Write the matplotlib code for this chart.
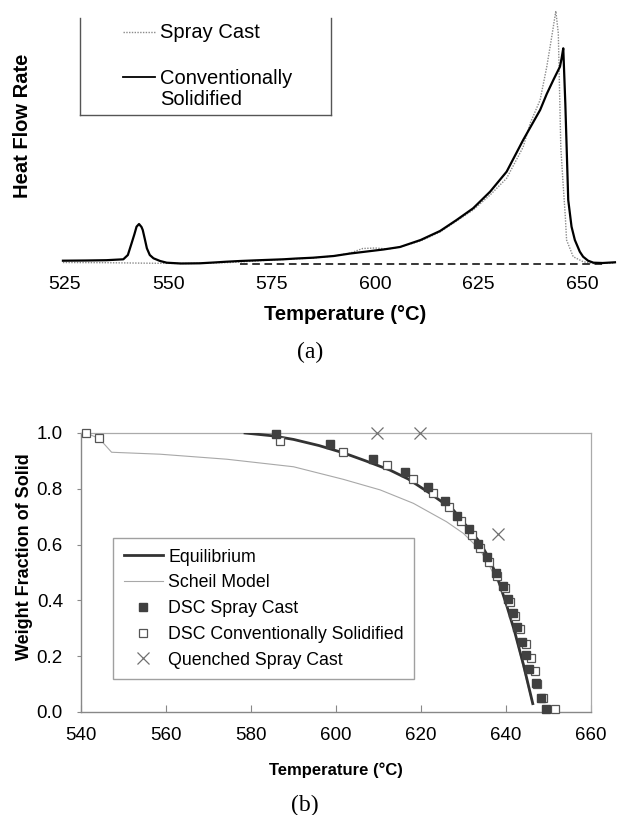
import matplotlib
matplotlib.use("Agg")
import matplotlib.pyplot as plt
from matplotlib.lines import Line2D

plt.rcParams['font.family'] = ['Liberation Sans', 'DejaVu Sans']

# (a) DSC heat flow curves (arbitrary units, baseline = 0)
conv_T = [524.5, 530, 535, 539.1, 540.2, 541.1, 541.8, 542.3, 542.9, 543.5, 543.8, 544.3, 544.8,
          545.5, 546.4, 548, 549.6, 553, 557.6, 561, 564.1, 567.3, 572, 577.8, 581, 585, 590, 594,
          598, 602, 606, 611, 615.7, 619.7, 623.7, 627.8, 631.8, 635.8, 639.9, 641.5, 643.1, 643.9,
          644.7, 645.1, 645.5, 646.0, 646.7, 647.5, 648.3, 649.5, 650.3, 651.5, 652.8, 655, 658]
conv_h = [3.3, 3.5, 3.8, 4.7, 9, 20.7, 30, 37.3, 40, 37, 34, 25, 15.7,
          9, 5.7, 3, 1.3, 0.5, 0.7, 1.5, 2.3, 3, 3.8, 4.7, 5.5, 6.3, 8, 10.5,
          12.5, 14.5, 17, 24, 33, 44, 55.7, 72.3, 92.3, 124, 154, 170, 184, 190.7,
          197.3, 205.7, 215.7, 160, 64, 37.3, 24, 12.3, 7.3, 3.3, 1.3, 1, 1.7]

spray_T = [524.5, 535, 545, 555, 565, 575, 585, 590, 594, 597, 600, 603, 606, 611, 615.7, 619.7,
           623.7, 627.8, 631.8, 635.8, 637.5, 639.9, 641.5, 642.7, 643.7, 644.3, 644.9, 645.4,
           646.0, 646.3, 647.9, 650.3, 652.8, 658]
spray_h = [1.5, 1.3, 0.8, 0.5, 1.5, 4, 6, 8, 11, 15.5, 16, 15, 17, 23, 32, 43,
           54, 69, 85.7, 117, 140.7, 164, 197, 227, 253, 230.7, 117, 84,
           47, 24, 7.3, 2.3, 0.5, 1]

base_T = [567.3, 655.0]
base_h = [0, 0]

# (b) fraction solid vs temperature
eq_T = [578.6, 585, 590, 596, 601.7, 607, 612.7, 617, 622.1, 627.6, 631.5, 634, 636.2, 638.2,
        640.2, 642, 644.1, 646.3]
eq_f = [1.0, 0.99, 0.977, 0.955, 0.929, 0.9, 0.867, 0.835, 0.784, 0.724, 0.652, 0.605, 0.545, 0.473,
        0.38, 0.29, 0.17, 0.03]

scheil_T = [541.2, 544.3, 547.2, 558.6, 574.3, 590, 601.7, 610.4, 618.2, 626, 630, 633.9, 636.2,
            638.4, 640, 641.8, 643.9, 646.2]
scheil_f = [1.0, 0.98, 0.931, 0.924, 0.906, 0.879, 0.834, 0.796, 0.748, 0.682, 0.64, 0.581, 0.521,
            0.455, 0.39, 0.3, 0.17, 0.03]

dsc_spray_T = [585.9, 598.6, 608.8, 616.2, 621.7, 625.6, 628.4, 631.4, 633.5, 635.6, 637.6, 639.2,
               640.5, 641.7, 642.7, 643.7, 644.6, 645.4, 647.1, 648.2, 649.3]
dsc_spray_f = [0.995, 0.961, 0.906, 0.861, 0.805, 0.757, 0.703, 0.655, 0.602, 0.554, 0.499, 0.452,
               0.404, 0.354, 0.304, 0.252, 0.204, 0.153, 0.103, 0.049, 0.01]

dsc_conv_T = [541.2, 544.3, 586.8, 601.7, 611.9, 618.0, 622.8, 626.6, 629.4, 631.9, 633.9, 636.1,
              637.9, 639.8, 640.9, 642.1, 643.3, 644.6, 645.8, 646.8, 647.4, 648.8, 651.5]
dsc_conv_f = [1.0, 0.981, 0.971, 0.931, 0.885, 0.834, 0.786, 0.734, 0.686, 0.634, 0.587, 0.537,
              0.489, 0.443, 0.395, 0.344, 0.296, 0.244, 0.195, 0.148, 0.1, 0.049, 0.01]

quench_T = [609.6, 619.8, 638.2]
quench_f = [1.0, 1.0, 0.638]

W, H = 625, 815
fig = plt.figure(figsize=(W / 100, H / 100), dpi=100)


def fx(x):
   return x / W


def fy(y):
   return 1 - y / H


# ---------- (a) ----------
ax1 = fig.add_axes([fx(55), fy(270), 565 / W, 270 / H])
ax1.plot(spray_T, spray_h, color="#8a8a8a", lw=1.0, linestyle=(0, (1, 1)))
ax1.plot(conv_T, conv_h, color="black", lw=1.6)
ax1.plot(base_T, base_h, color="black", lw=1.1, linestyle=(0, (5, 3)))
ax1.set_xlim(522.58, 659.22)
ax1.set_ylim(-6, 264)
for s in ax1.spines.values():
   s.set_visible(False)
ax1.set_xticks([525, 550, 575, 600, 625, 650])
ax1.set_yticks([])
ax1.tick_params(axis="x", length=0, labelsize=14, pad=4)
ax1.set_xlabel("Temperature (°C)", fontsize=14.5, fontweight="bold", va="center")
ax1.xaxis.set_label_coords((345 - 55) / 565, -44 / 270)
ax1.set_ylabel("Heat Flow Rate", fontsize=14.5, fontweight="bold", va="center")
ax1.yaxis.set_label_coords((22.5 - 55) / 565, 1 - 126 / 270)

# legend box of (a), open at the top
box_c = "#555555"
for xs, ys in [([80, 80], [18, 115]), ([80, 331], [115, 115]), ([331, 331], [18, 115])]:
   fig.add_artist(Line2D([fx(v) for v in xs], [fy(v) for v in ys], color=box_c, lw=1.0))
fig.add_artist(Line2D([fx(123), fx(155)], [fy(32), fy(32)], color="#8a8a8a", lw=1.0,
                      linestyle=(0, (1, 1))))
fig.add_artist(Line2D([fx(123), fx(155)], [fy(77), fy(77)], color="black", lw=1.3))
fig.text(fx(160), fy(32), "Spray Cast", fontsize=14.5, va="center", ha="left")
fig.text(fx(160), fy(89), "Conventionally\nSolidified", fontsize=14.5, va="center", ha="left",
         linespacing=1.15)

fig.text(fx(310), fy(352), "(a)", fontsize=17, family="Liberation Serif", ha="center", va="center")

# ---------- (b) ----------
ax2 = fig.add_axes([fx(81), fy(712), 510 / W, 279 / H])
ax2.plot(scheil_T, scheil_f, color="#a8a8a8", lw=0.8, label="Scheil Model", zorder=2)
ax2.plot(eq_T, eq_f, color="#333333", lw=2.0, label="Equilibrium", zorder=3)
ax2.plot(dsc_conv_T, dsc_conv_f, linestyle="none", marker="s", ms=5.5, mfc="white", mec="#555555",
         mew=0.9, label="DSC Conventionally Solidified", zorder=4, clip_on=False)
ax2.plot(dsc_spray_T, dsc_spray_f, linestyle="none", marker="s", ms=5.5, mfc="#404040",
         mec="#404040", label="DSC Spray Cast", zorder=5, clip_on=False)
ax2.plot(quench_T, quench_f, linestyle="none", marker="x", ms=9, mew=0.9, color="#707070",
         label="Quenched Spray Cast", zorder=5, clip_on=False)
ax2.set_xlim(540, 660)
ax2.set_ylim(0, 1.0)
ax2.set_xticks([540, 560, 580, 600, 620, 640, 660])
ax2.set_yticks([0.0, 0.2, 0.4, 0.6, 0.8, 1.0])
ax2.set_yticklabels(["0.0", "0.2", "0.4", "0.6", "0.8", "1.0"])
ax2.tick_params(axis="x", direction="in", length=5, color="#888888", labelsize=13.5, pad=11)
ax2.tick_params(axis="y", direction="out", length=3, color="#888888", labelsize=13.5, pad=10)
for side in ["left", "bottom"]:
   ax2.spines[side].set_color("#888888")
   ax2.spines[side].set_linewidth(1.0)
for side in ["top", "right"]:
   ax2.spines[side].set_color("#aaaaaa")
   ax2.spines[side].set_linewidth(0.9)
ax2.set_xlabel("Temperature (°C)", fontsize=12, fontweight="bold", va="center")
ax2.xaxis.set_label_coords(0.5, -58 / 279)
ax2.set_ylabel("Weight Fraction of Solid", fontsize=13, fontweight="bold", va="center")
ax2.yaxis.set_label_coords((25 - 81) / 510, (712 - 557) / 279)

handles, labels = ax2.get_legend_handles_labels()
order = ["Equilibrium", "Scheil Model", "DSC Spray Cast", "DSC Conventionally Solidified",
         "Quenched Spray Cast"]
hmap = dict(zip(labels, handles))
leg = ax2.legend([hmap[k] for k in order], order, loc="upper left",
                 bbox_to_anchor=((113 - 81) / 510, (712 - 538) / 279), borderaxespad=0,
                 fontsize=12.8, frameon=True, fancybox=False, edgecolor="#888888",
                 handlelength=2.2, handletextpad=0.3, labelspacing=0.49, borderpad=0.6)
leg.get_frame().set_linewidth(1.0)

fig.text(fx(305), fy(805), "(b)", fontsize=17, family="Liberation Serif", ha="center", va="center")

plt.savefig("out.png", dpi=100)
